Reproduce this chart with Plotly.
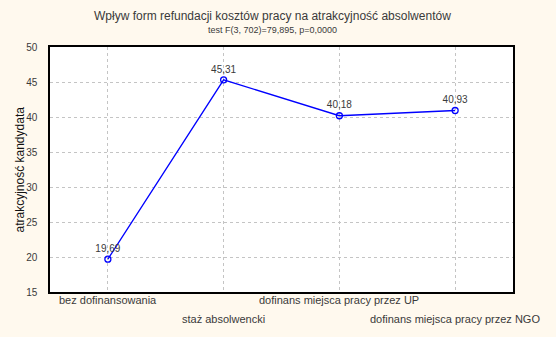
import plotly.graph_objects as go

categories = ["bez dofinansowania", "staż absolwencki",
              "dofinans miejsca pracy przez UP", "dofinans miejsca pracy przez NGO"]
values = [19.69, 45.31, 40.18, 40.93]
value_labels = ["19,69", "45,31", "40,18", "40,93"]
y_ticks = [15, 20, 25, 30, 35, 40, 45, 50]

title = "Wpływ form refundacji kosztów pracy na atrakcyjność absolwentów"
subtitle = "test F(3, 702)=79,895, p=0,0000"
y_title = "atrakcyjność kandydata"

FONT = "Liberation Sans Narrow, Arial Narrow, Liberation Sans, Arial, sans-serif"
BG = "#FFF9EE"
TXT = "#3a3a3a"

fig = go.Figure()
fig.add_trace(go.Scatter(
    x=categories, y=values,
    mode="lines+markers+text",
    line=dict(color="#0000FF", width=1.3),
    marker=dict(symbol="circle-open", size=6, color="#0000FF", line=dict(width=1.3)),
    text=value_labels, textposition="top center",
    textfont=dict(family=FONT, size=10, color=TXT),
    cliponaxis=False, showlegend=False,
))

annotations = [
    dict(text=title, xref="paper", yref="paper", x=0.48, y=1, yshift=31,
         showarrow=False, yanchor="middle", font=dict(family=FONT, size=12, color=TXT)),
    dict(text=subtitle, xref="paper", yref="paper", x=0.48, y=1, yshift=17,
         showarrow=False, yanchor="middle", font=dict(family=FONT, size=9, color=TXT)),
    dict(text=y_title, xref="paper", yref="paper", x=0, y=0.5, xshift=-31,
         xanchor="center", yanchor="middle", textangle=-90, showarrow=False,
         font=dict(family="Liberation Sans, Arial, sans-serif", size=12, color="#111111")),
]
for i, c in enumerate(categories):
    annotations.append(dict(
        text=c, x=c, xref="x", yref="paper", y=0,
        yshift=-8 if i % 2 == 0 else -27, yanchor="middle",
        showarrow=False, font=dict(family=FONT, size=11, color=TXT)))

fig.update_layout(
    width=556, height=337,
    margin=dict(l=50, r=43, t=47, b=45),
    paper_bgcolor=BG, plot_bgcolor="white",
    font=dict(family=FONT, color=TXT),
    annotations=annotations,
    xaxis=dict(type="category", categoryarray=categories, range=[-0.5, 3.5],
               showticklabels=False, showgrid=True, gridcolor="#c4c4c4",
               griddash="dot", gridwidth=1, showline=True, linecolor="black",
               linewidth=1.5, mirror=True, zeroline=False, ticks="",
               automargin=False),
    yaxis=dict(range=[15, 50], tickvals=y_ticks, ticks="", ticklabelstandoff=9,
               tickfont=dict(family=FONT, size=10, color=TXT),
               showgrid=True, gridcolor="#c4c4c4", griddash="dot", gridwidth=1,
               showline=True, linecolor="black", linewidth=1.5, mirror=True,
               zeroline=False, automargin=False),
)

fig.write_html("out.html")
